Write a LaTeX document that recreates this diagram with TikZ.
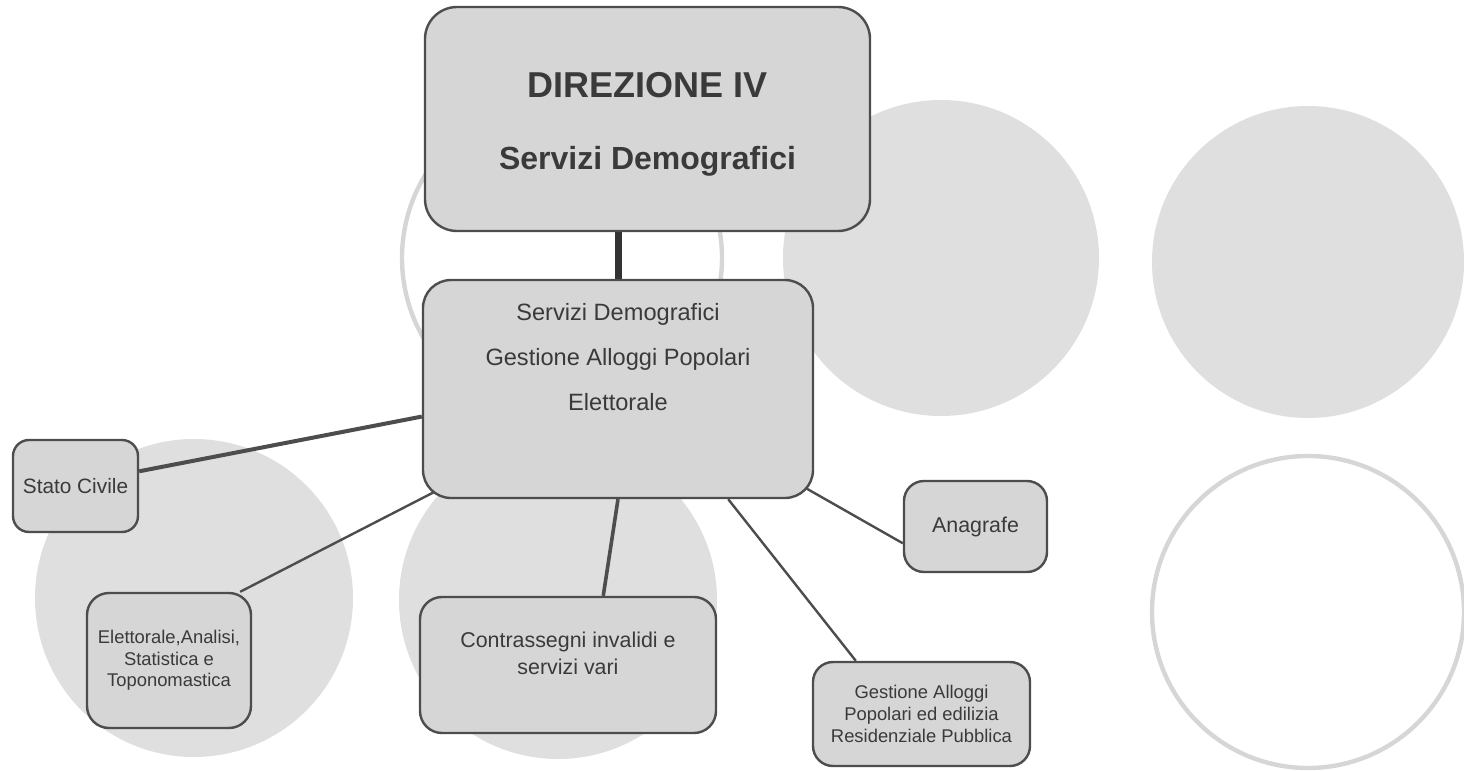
\documentclass[tikz,border=0pt]{standalone}
\usepackage{fontspec}
\setmainfont{Liberation Sans}
\usepackage{tikz}
\usepackage{xcolor}

\definecolor{bordo}{HTML}{4D4D4D}
\definecolor{testo}{HTML}{3A3A3A}
\definecolor{riempi}{HTML}{D6D6D6}
\definecolor{cerchiogrigio}{HTML}{DFDFDF}
\definecolor{anellogrigio}{HTML}{D6D6D6}

\pgfdeclarelayer{sfondo}
\pgfdeclarelayer{linee}
\pgfsetlayers{sfondo,linee,main}

\begin{document}
\begin{tikzpicture}[x=0.5pt, y=-0.5pt,
        ufficio/.style={draw=bordo, fill=riempi, line width=1.2pt, align=center, text=testo, inner sep=0pt},
        collega/.style={draw=bordo, line width=1.2pt},
        anello/.style={draw=anellogrigio, line width=2.2pt}]
        \useasboundingbox (0,0) rectangle (1464,771);

        % Background circles
        \begin{pgfonlayer}{sfondo}
            \draw[anello] (562,258) circle [radius=160];
            \fill[cerchiogrigio] (941,258) circle [radius=158];
            \fill[cerchiogrigio] (1308,262) circle [radius=156];
            \fill[cerchiogrigio] (194,598) circle [radius=159];
            \fill[cerchiogrigio] (558,600) circle [radius=159];
            \draw[anello] (1308,612) circle [radius=156];
        \end{pgfonlayer}

        % Direzione
        \node[ufficio, rounded corners=16pt, font=\bfseries\fontsize{16}{36}\selectfont] (direzione) at (647.5,119)
              {\parbox[c][112pt][t]{222.5pt}{\centering\vspace*{32.5pt}{\fontsize{18}{36}\selectfont DIREZIONE IV}\\Servizi Demografici}};

        % Servizi
        \node[ufficio, rounded corners=14pt, font=\fontsize{11.8}{22.5}\selectfont] (servizi) at (618,389)
              {\parbox[c][109pt][t]{195pt}{\centering\vspace*{11.7pt}Servizi Demografici\\Gestione Alloggi Popolari\\Elettorale}};

        % Uffici
        \node[ufficio, rounded corners=8pt, minimum width=62.5pt, minimum height=46pt,
              font=\fontsize{10.4}{12}\selectfont] (stato) at (75.5,486) {Stato Civile};
        \node[ufficio, rounded corners=11pt, minimum width=82pt, minimum height=67.5pt,
              font=\fontsize{9.2}{10.75}\selectfont] (elettorale) at (169,660.5)
              {Elettorale,Analisi,\\Statistica e\\Toponomastica};
        \node[ufficio, rounded corners=11pt, font=\fontsize{10.7}{13.5}\selectfont] (contrassegni) at (568,665)
              {\parbox[c][68pt][t]{148pt}{\centering\vspace*{17.6pt}Contrassegni invalidi e\\servizi vari}};
        \node[ufficio, rounded corners=10pt, minimum width=71.5pt, minimum height=45.5pt,
              font=\fontsize{10.7}{13}\selectfont] (anagrafe) at (975.5,526.5) {Anagrafe};
        \node[ufficio, rounded corners=10pt, minimum width=108.5pt, minimum height=52pt,
              font=\fontsize{9.2}{11}\selectfont] (alloggi) at (921.5,714)
              {Gestione Alloggi\\Popolari ed edilizia\\Residenziale Pubblica};

        % Connectors
        \begin{pgfonlayer}{linee}
            \draw[collega, line width=3.5pt, draw=black!80] (servizi.north) -- (servizi.north |- direzione.south);
            \draw[collega, line width=2pt] (stato.13) -- (servizi.188);
            \draw[collega] (elettorale.44) -- ([shift={(14,-8)}]servizi.south west);
            \draw[collega, line width=1.8pt] (contrassegni.63) -- (servizi.south);
            \draw[collega] (anagrafe.193) -- ([shift={(-10,-12)}]servizi.south east);
            \draw[collega] (alloggi.141) -- (servizi.-45);
        \end{pgfonlayer}
    \end{tikzpicture}
\end{document}
